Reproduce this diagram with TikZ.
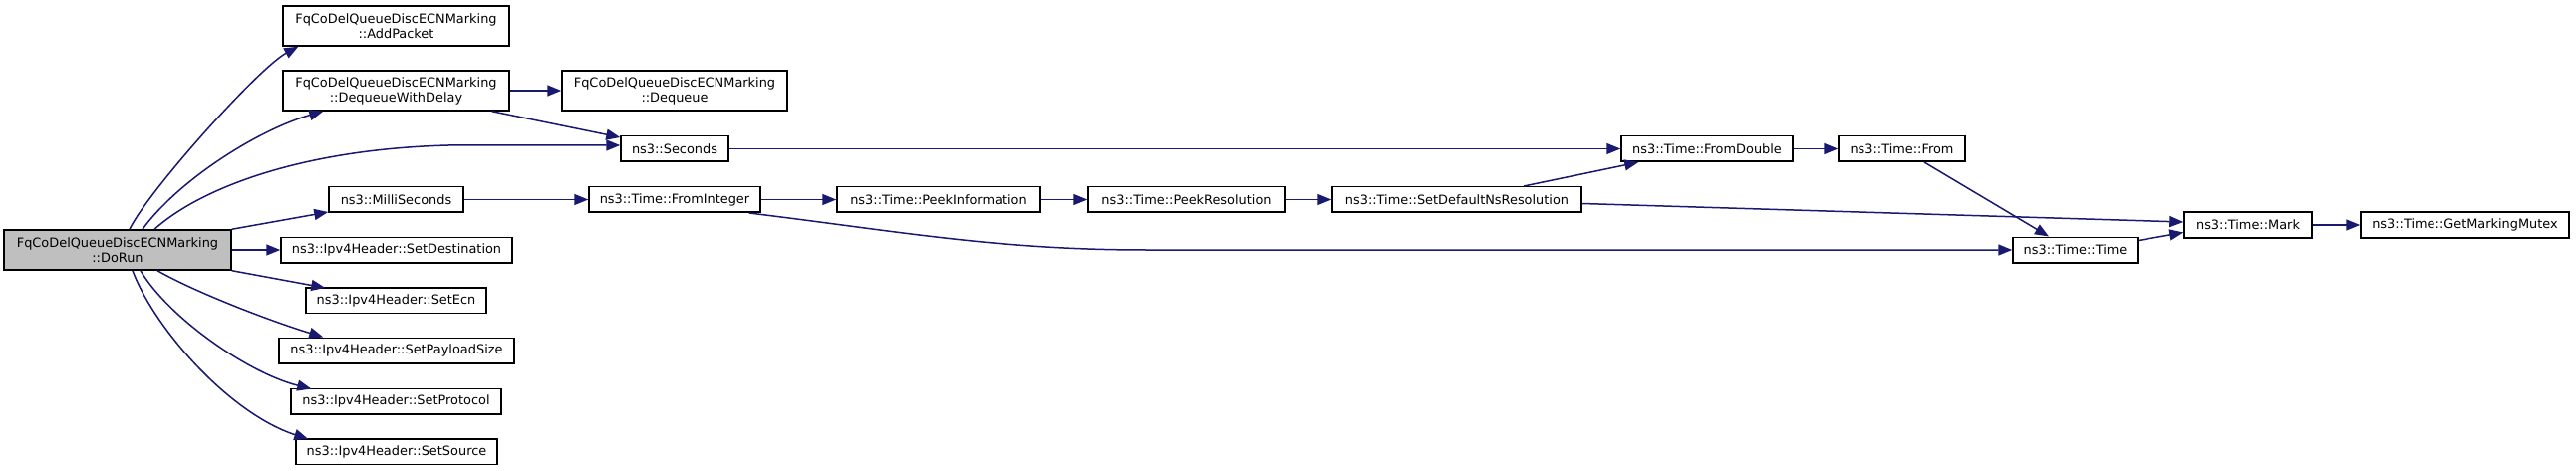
\documentclass[tikz,border=0pt]{standalone}
\usepackage{fontspec}
\setmainfont{DejaVu Sans}
\usetikzlibrary{arrows.meta}
\definecolor{edgeblue}{RGB}{25,25,112}
\definecolor{rootgray}{RGB}{191,191,191}
\begin{document}
\begin{tikzpicture}[x=1pt,y=-1pt,
  box/.style={draw=black, line width=1.5pt, fill=white, inner sep=0pt, align=center,
    font=\fontsize{12.9}{15}\selectfont},
  edge/.style={draw=edgeblue, line width=1.5pt, -{Triangle[length=14pt,width=11pt]}}]
\fill[white] (0,0) rectangle (2585,473);
\useasboundingbox (0,0) rectangle (2585,473);
% nodes
\node[box, fill=rootgray, minimum width=228pt, minimum height=40pt] (doRun) at (118,251) {FqCoDelQueueDiscECNMarking\\::DoRun};
\node[box, minimum width=227pt, minimum height=40pt] (addPacket) at (397.5,26) {FqCoDelQueueDiscECNMarking\\::AddPacket};
\node[box, minimum width=227pt, minimum height=40pt] (deqDelay) at (397.5,91) {FqCoDelQueueDiscECNMarking\\::DequeueWithDelay};
\node[box, minimum width=226pt, minimum height=40pt] (dequeue) at (677,91) {FqCoDelQueueDiscECNMarking\\::Dequeue};
\node[box, minimum width=108pt, minimum height=25.5pt] (seconds) at (677,149.5) {ns3::Seconds};
\node[box, minimum width=135pt, minimum height=25.5pt] (milli) at (397.5,200.5) {ns3::MilliSeconds};
\node[box, minimum width=232pt, minimum height=25.5pt] (setDest) at (398,251) {ns3::Ipv4Header::SetDestination};
\node[box, minimum width=181pt, minimum height=25.5pt] (setEcn) at (397.5,301.5) {ns3::Ipv4Header::SetEcn};
\node[box, minimum width=236pt, minimum height=25.5pt] (setPayload) at (398,352) {ns3::Ipv4Header::SetPayloadSize};
\node[box, minimum width=211pt, minimum height=25.5pt] (setProto) at (397.5,403) {ns3::Ipv4Header::SetProtocol};
\node[box, minimum width=202pt, minimum height=25.5pt] (setSource) at (398,453.5) {ns3::Ipv4Header::SetSource};
\node[box, minimum width=172pt, minimum height=25.5pt] (fromInteger) at (677,200.5) {ns3::Time::FromInteger};
\node[box, minimum width=204pt, minimum height=25.5pt] (peekInfo) at (942,200.5) {ns3::Time::PeekInformation};
\node[box, minimum width=197pt, minimum height=25.5pt] (peekRes) at (1190.5,200.5) {ns3::Time::PeekResolution};
\node[box, minimum width=250pt, minimum height=25.5pt] (setDefault) at (1462,200.5) {ns3::Time::SetDefaultNsResolution};
\node[box, minimum width=172pt, minimum height=25.5pt] (fromDouble) at (1713,149.5) {ns3::Time::FromDouble};
\node[box, minimum width=127pt, minimum height=25.5pt] (from) at (1908.5,149.5) {ns3::Time::From};
\node[box, minimum width=125pt, minimum height=25.5pt] (timeTime) at (2082.5,251) {ns3::Time::Time};
\node[box, minimum width=128pt, minimum height=25.5pt] (mark) at (2256,226) {ns3::Time::Mark};
\node[box, minimum width=209pt, minimum height=25.5pt] (gmm) at (2473.5,226) {ns3::Time::GetMarkingMutex};
% edges from DoRun
\draw[edge] ([xshift=12pt]doRun.north) .. controls (150,190) and (260,68) .. ([xshift=16pt]addPacket.south west);
\draw[edge] ([xshift=25pt]doRun.north) .. controls (180,180) and (260,130) .. ([xshift=41pt]deqDelay.south west);
\draw[edge] ([xshift=37pt]doRun.north) .. controls (200,190) and (300,150) .. (450,146) -- ([yshift=3.5pt]seconds.west);
\draw[edge] (doRun.north east) -- ([yshift=1pt]milli.south west);
\draw[edge] (doRun.east) -- (setDest.west);
\draw[edge] (doRun.south east) -- ([xshift=20pt,yshift=-1pt]setEcn.north west);
\draw[edge] ([xshift=40pt]doRun.south) .. controls (195,293) and (270,322) .. ([xshift=45pt]setPayload.north west);
\draw[edge] ([xshift=23pt]doRun.south) .. controls (170,320) and (250,375) .. ([xshift=21pt,yshift=-1pt]setProto.north west);
\draw[edge] ([xshift=15pt]doRun.south) .. controls (155,330) and (230,415) .. ([xshift=13pt,yshift=-1pt]setSource.north west);
% other edges
\draw[edge] (deqDelay.east) -- (dequeue.west);
\draw[edge] ([xshift=-18pt]deqDelay.south east) -- ([yshift=-2pt]seconds.north west);
\draw[edge] (seconds.east) -- (fromDouble.west);
\draw[edge] (milli.east) -- (fromInteger.west);
\draw[edge] (fromInteger.east) -- (peekInfo.west);
\draw[edge] (peekInfo.east) -- (peekRes.west);
\draw[edge] (peekRes.east) -- (setDefault.west);
\draw[edge] ([xshift=67pt]setDefault.north) -- ([xshift=18pt]fromDouble.south west);
\draw[edge] ([yshift=-4pt]setDefault.east) -- ([yshift=3pt]mark.west);
\draw[edge] ([xshift=-12pt]fromInteger.south east) .. controls (900,232) and (1000,251) .. (1150,251) -- (timeTime.west);
\draw[edge] (fromDouble.east) -- (from.west);
\draw[edge] ([xshift=22.5pt]from.south) -- ([xshift=-26.5pt]timeTime.north);
\draw[edge] ([yshift=-4pt]timeTime.north east) -- ([yshift=6pt]mark.south west);
\draw[edge] (mark.east) -- (gmm.west);
\end{tikzpicture}
\end{document}
